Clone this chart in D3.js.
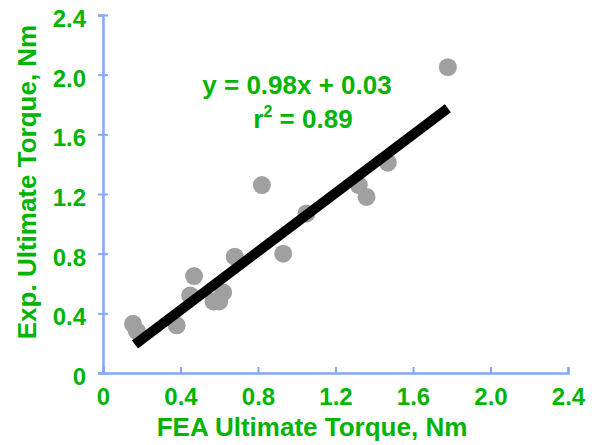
<!DOCTYPE html>
<html>
<head>
<meta charset="utf-8">
<script src="https://cdn.jsdelivr.net/npm/d3@7"></script>
<style>
  body { margin: 0; background: #fff; }
  text { font-family: "Liberation Sans", Arial, sans-serif; font-weight: bold; }
</style>
</head>
<body>
<div id="chart"></div>
<script>
const width = 592;
const height = 445;
const margin = { top: 15, right: 24, bottom: 72, left: 103 };

const feaTorque = [1.78, 1.47, 1.32, 1.36, 0.82, 1.05, 0.93, 0.68, 0.47, 0.45, 0.62, 0.57, 0.60, 0.38, 0.155, 0.175];
const expTorque = [2.05, 1.41, 1.26, 1.18, 1.26, 1.07, 0.80, 0.78, 0.65, 0.52, 0.54, 0.48, 0.48, 0.32, 0.33, 0.28];
const xTicks = [0, 0.4, 0.8, 1.2, 1.6, 2.0, 2.4];
const yTicks = [0, 0.4, 0.8, 1.2, 1.6, 2.0, 2.4];
const slope = 0.98;
const intercept = 0.03;
const fitRange = [0.165, 1.78];

const points = feaTorque.map((d, i) => ({ x: d, y: expTorque[i] }));

const svg = d3.select('#chart')
    .append('svg')
    .attr('width', width)
    .attr('height', height);

const x = d3.scaleLinear()
    .domain([0, 2.4])
    .range([margin.left, width - margin.right]);

const y = d3.scaleLinear()
    .domain([0, 2.4])
    .range([height - margin.bottom, margin.top]);

const tickFmt = d => d === 0 ? '0' : d3.format('.1f')(d);
const axisColor = '#80a8ff';
const green = '#00b400';

// x axis: ticks point up into the plot
const gx = svg.append('g')
    .attr('transform', `translate(0, ${y(0)})`)
    .call(d3.axisBottom(x).tickValues(xTicks).tickFormat(tickFmt).tickSize(-6).tickPadding(15));

// y axis: ticks cross the line
const gy = svg.append('g')
    .attr('transform', `translate(${x(0)}, 0)`)
    .call(d3.axisLeft(y).tickValues(yTicks).tickFormat(tickFmt).tickSize(5).tickPadding(12));

gy.selectAll('.tick line').attr('x2', 5).attr('x1', -5);

[gx, gy].forEach(g => {
    g.select('.domain').attr('stroke', axisColor).attr('stroke-width', 2.5);
    g.selectAll('.tick line').attr('stroke', axisColor).attr('stroke-width', 2);
    g.selectAll('.tick text').attr('fill', green).attr('font-size', '24px');
});
gx.selectAll('.tick text').attr('dy', '0.71em');
gy.selectAll('.tick text').attr('dy', '0.48em');

svg.append('g')
    .selectAll('circle')
    .data(points)
    .join('circle')
      .attr('cx', d => x(d.x))
      .attr('cy', d => y(d.y))
      .attr('r', 9)
      .attr('fill', '#a0a0a0');

svg.append('line')
    .attr('x1', x(fitRange[0]))
    .attr('y1', y(slope * fitRange[0] + intercept))
    .attr('x2', x(fitRange[1]))
    .attr('y2', y(slope * fitRange[1] + intercept))
    .attr('stroke', '#000')
    .attr('stroke-width', 10);

svg.append('text')
    .attr('x', 297)
    .attr('y', 94)
    .attr('text-anchor', 'middle')
    .attr('fill', green)
    .attr('font-size', '26px')
    .text(`y = ${slope}x + ${intercept}`);

const r2 = svg.append('text')
    .attr('x', 303)
    .attr('y', 128)
    .attr('text-anchor', 'middle')
    .attr('fill', green)
    .attr('font-size', '26px');
r2.append('tspan').text('r');
r2.append('tspan').attr('font-size', '16px').attr('dy', '-11').text('2');
r2.append('tspan').attr('dy', '11').text(' = 0.89');

svg.append('text')
    .attr('x', 312)
    .attr('y', 436)
    .attr('text-anchor', 'middle')
    .attr('fill', green)
    .attr('font-size', '26px')
    .text('FEA Ultimate Torque, Nm');

svg.append('text')
    .attr('transform', `translate(36, 182) rotate(-90)`)
    .attr('text-anchor', 'middle')
    .attr('fill', green)
    .attr('font-size', '26px')
    .text('Exp. Ultimate Torque, Nm');
</script>
</body>
</html>
